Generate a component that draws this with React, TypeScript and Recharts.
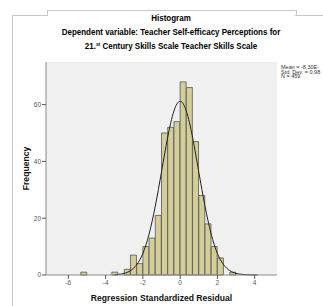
import React from "react";
import {
  ComposedChart,
  Bar,
  Line,
  XAxis,
  YAxis,
  CartesianGrid,
} from "recharts";

// bin centers (bin width 1/3), empty bins kept as 0, tail points only carry the curve
const binCenters = [
  -5.167, -4.833, -4.5, -4.167, -3.833, -3.5, -3.167, -2.833, -2.5, -2.167,
  -1.833, -1.5, -1.167, -0.833, -0.5, -0.167, 0.167, 0.5, 0.833, 1.167, 1.5,
  1.833, 2.167, 2.5, 2.833, 3.167, 3.5, 3.833, 4.167,
];

const frequencies = [
  1, 0, 0, 0, 0, 1, 0, 2, 7, 4, 10, 13, 21, 50, 52, 54, 68, 66, 47, 28, 18,
  10, 6, 0, 1, null, null, null, null,
];

// normal curve at the same x positions
const normalCurve = [
  null, null, null, null, null, 0.1, 0.33, 0.94, 2.4, 5.3, 10.6, 19, 30.1,
  42.6, 53.7, 60.3, 60.3, 53.7, 42.6, 30.1, 19, 10.6, 5.3, 2.4, 0.94, 0.33,
  0.1, 0.03, 0.01,
];

const xTicks = [-6, -4, -2, 0, 2, 4];
const yTicks = [0, 20, 40, 60];

const titleLines = [
  "Histogram",
  "Dependent variable: Teacher Self-efficacy Perceptions for",
];

const statLines = ["Mean = -8,30E-", "Std. Dev. = 0,98", "N = 459"];

const data = binCenters.map((x, i) => ({
  x,
  count: frequencies[i],
  curve: normalCurve[i],
}));

const bodyFont = "'Liberation Sans', Arial, sans-serif";
const frameColor = "#c8c8c8";

export default function App() {
  return (
    <div
      style={{
        position: "absolute",
        left: 0,
        top: 0,
        width: 323,
        height: 306,
        background: "#fff",
        overflow: "hidden",
        fontFamily: bodyFont,
      }}
    >
      {/* outer chart frame */}
      <div style={{ position: "absolute", left: 12, top: 15, width: 35, height: 300, borderLeft: `1px solid ${frameColor}`, borderTop: `1px solid ${frameColor}` }} />
      <div style={{ position: "absolute", left: 47, top: 10, width: 248, height: 5, borderLeft: `1px solid ${frameColor}`, borderTop: `1px solid ${frameColor}`, borderRight: `1px solid ${frameColor}` }} />
      <div style={{ position: "absolute", left: 295, top: 15, width: 40, height: 1, borderTop: `1px solid ${frameColor}` }} />

      <div
        style={{
          position: "absolute",
          left: 20,
          width: 302,
          top: 11,
          textAlign: "center",
          fontWeight: "bold",
          fontSize: 9.8,
          lineHeight: "13.5px",
          color: "#000",
          whiteSpace: "nowrap",
          transform: "scaleX(0.815)",
          transformOrigin: "50% 0",
        }}
      >
        <div>{titleLines[0]}</div>
        <div>{titleLines[1]}</div>
        <div>
          21.<sup style={{ fontSize: 6, verticalAlign: 3 }}>st</sup> Century Skills Scale Teacher Skills Scale
        </div>
      </div>

      <div
        style={{
          position: "absolute",
          left: 281,
          top: 65,
          fontSize: 5.5,
          lineHeight: "4.6px",
          color: "#333",
          whiteSpace: "nowrap",
        }}
      >
        {statLines.map((s) => (
          <div key={s}>{s}</div>
        ))}
      </div>

      <ComposedChart
        width={323}
        height={306}
        data={data}
        margin={{ top: 62, right: 46, bottom: 0, left: 0 }}
        barCategoryGap={0}
        barGap={0}
        style={{ position: "absolute", left: 0, top: 0 }}
      >
        <CartesianGrid fill="#f0f0f0" horizontal={false} vertical={false} />
        <XAxis
          dataKey="x"
          type="number"
          domain={[-7.2, 5.2]}
          ticks={xTicks}
          allowDataOverflow
          height={31}
          tickSize={4}
          tickMargin={1}
          stroke="#8a8a8a"
          tickLine={{ stroke: "#555" }}
          tick={{ fontSize: 6.5, fill: "#555", fontFamily: bodyFont }}
          label={{
            value: "Regression Standardized Residual",
            position: "insideBottom",
            offset: 5,
            style: { fontSize: 8.6, fontWeight: "bold", fill: "#111", fontFamily: bodyFont },
          }}
        />
        <XAxis xAxisId="top" orientation="top" type="number" domain={[-7.2, 5.2]} height={0} tick={false} tickLine={false} stroke="#8a8a8a" />
        <YAxis
          type="number"
          domain={[0, 75]}
          ticks={yTicks}
          width={46}
          tickSize={4}
          tickMargin={1}
          stroke="#8a8a8a"
          tickLine={{ stroke: "#555" }}
          tick={{ fontSize: 6.5, fill: "#555", fontFamily: bodyFont }}
          label={{
            value: "Frequency",
            angle: -90,
            position: "insideLeft",
            offset: 26,
            style: { textAnchor: "middle", fontSize: 8.6, fontWeight: "bold", fill: "#111", fontFamily: bodyFont },
          }}
        />
        <YAxis yAxisId="right" orientation="right" domain={[0, 75]} width={0} tick={false} tickLine={false} stroke="#8a8a8a" />
        <Bar
          dataKey="count"
          fill="#d3ce97"
          stroke="#555"
          strokeWidth={0.8}
          isAnimationActive={false}
        />
        <Line
          dataKey="curve"
          type="natural"
          stroke="#222"
          strokeWidth={1}
          dot={false}
          activeDot={false}
          connectNulls
          isAnimationActive={false}
        />
      </ComposedChart>
    </div>
  );
}
